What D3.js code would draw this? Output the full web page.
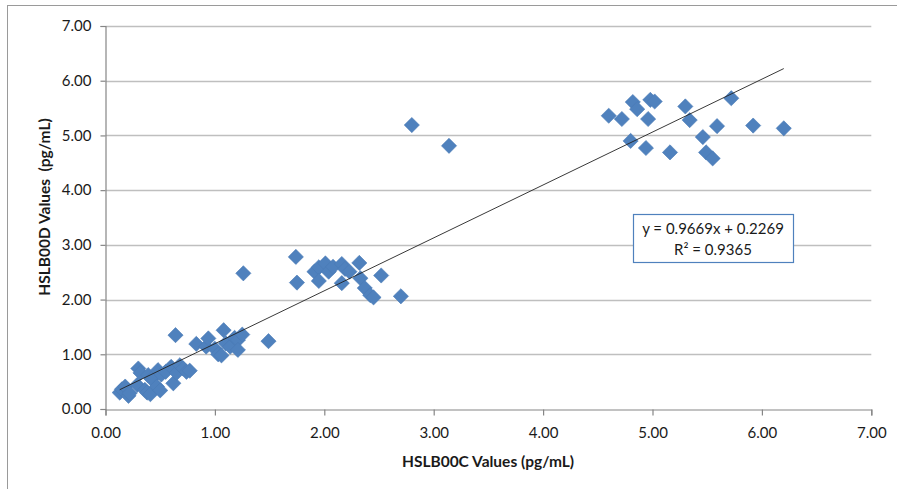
<!DOCTYPE html>
<html>
<head>
<meta charset="utf-8">
<script src="https://cdn.jsdelivr.net/npm/d3@7"></script>
<style>
  body { margin: 0; background: #fff; }
  svg { display: block; font-family: Lato, "Open Sans", sans-serif; }
</style>
</head>
<body>
<svg id="chart" width="897" height="489"></svg>
<script>
// HSLB00C readings (x) and matching HSLB00D readings (y), pg/mL
const xValues = [
  0.13, 0.15, 0.18, 0.21, 0.22, 0.29, 0.30, 0.32, 0.36, 0.38, 0.39, 0.41, 0.42, 0.47,
  0.48, 0.50, 0.51, 0.55, 0.60, 0.62, 0.64, 0.65, 0.68, 0.71, 0.74, 0.77, 0.83, 0.92,
  0.94, 1.00, 1.03, 1.06, 1.08, 1.10, 1.14, 1.18, 1.21, 1.21, 1.25, 1.26, 1.49,
  1.74, 1.75, 1.91, 1.95, 1.95, 2.01, 2.04, 2.08, 2.16, 2.19, 2.23, 2.16, 2.32, 2.33,
  2.52, 2.37, 2.42, 2.45, 2.70, 2.80, 3.14,
  4.60, 4.72, 4.82, 4.86, 4.96, 4.98, 5.02, 5.30, 5.34, 5.72, 5.59, 5.92, 6.20,
  4.80, 4.94, 5.16, 5.46, 5.49, 5.55
];
const yValues = [
  0.30, 0.36, 0.41, 0.24, 0.29, 0.44, 0.74, 0.66, 0.35, 0.30, 0.62, 0.27, 0.55, 0.41,
  0.71, 0.34, 0.63, 0.68, 0.77, 0.47, 1.35, 0.66, 0.80, 0.74, 0.68, 0.70, 1.19, 1.14,
  1.29, 1.10, 1.00, 0.98, 1.44, 1.20, 1.14, 1.30, 1.26, 1.08, 1.36, 2.48, 1.24,
  2.78, 2.31, 2.51, 2.59, 2.34, 2.66, 2.51, 2.60, 2.65, 2.56, 2.51, 2.30, 2.67, 2.39,
  2.44, 2.21, 2.08, 2.04, 2.06, 5.19, 4.81,
  5.36, 5.30, 5.61, 5.48, 5.30, 5.65, 5.62, 5.53, 5.28, 5.68, 5.17, 5.18, 5.13,
  4.90, 4.77, 4.69, 4.97, 4.69, 4.58
];
const tickValues = [0, 1, 2, 3, 4, 5, 6, 7];
const slope = 0.9669;
const intercept = 0.2269;
const equationLines = ["y = 0.9669x + 0.2269", "R² = 0.9365"];

const points = xValues.map((x, i) => ({x: x, y: yValues[i]}));

const svg = d3.select('#chart');
const margin = {left: 105.5, top: 26, right: 26, bottom: 80};
const W = 897, H = 489;

// outer chart frame
svg.append('rect')
  .attr('x', 7.5).attr('y', 5.5)
  .attr('width', W).attr('height', H)
  .attr('fill', 'none').attr('stroke', '#9a9a9a');

const x = d3.scaleLinear().domain([0, 7]).range([margin.left, 871.3]);
const y = d3.scaleLinear().domain([0, 7]).range([409, margin.top]);

// horizontal gridlines
svg.append('g')
  .selectAll('line')
  .data(tickValues.slice(1))
  .enter()
  .append('line')
  .attr('x1', x(0)).attr('x2', x(7))
  .attr('y1', d => Math.round(y(d)) + 0.5)
  .attr('y2', d => Math.round(y(d)) + 0.5)
  .attr('stroke', '#bfbfbf').attr('stroke-width', 1.3);

const yAxis = svg.append('g')
  .attr('transform', `translate(${margin.left},0)`)
  .call(d3.axisLeft(y).tickValues(tickValues).tickFormat(d3.format('.2f')).tickSize(5).tickPadding(9));

const xAxis = svg.append('g')
  .attr('transform', `translate(0,${409.5})`)
  .call(d3.axisBottom(x).tickValues(tickValues).tickFormat(d3.format('.2f')).tickSize(6).tickPadding(12));

[xAxis, yAxis].forEach(g => {
  g.select('.domain').attr('stroke', '#868686').attr('stroke-width', 1.2);
  g.selectAll('.tick line').attr('stroke', '#868686').attr('stroke-width', 1.2);
  g.selectAll('.tick text').attr('fill', '#1a1a1a').style('font-size', '15px')
    .style('font-family', 'Lato, "Open Sans", sans-serif');
});

// markers
const r = 7.6;
svg.append('g')
  .selectAll('path')
  .data(points)
  .enter()
  .append('path')
  .attr('d', d => {
    const cx = x(d.x), cy = y(d.y);
    return `M${cx},${cy - r}L${cx + r},${cy}L${cx},${cy + r}L${cx - r},${cy}Z`;
  })
  .attr('fill', '#4f81bd')
  .attr('stroke', '#4a7ab5')
  .attr('stroke-width', 0.6);

// linear trendline over the data range
const xMin = d3.min(xValues), xMax = d3.max(xValues);
svg.append('line')
  .attr('x1', x(xMin)).attr('y1', y(slope * xMin + intercept))
  .attr('x2', x(xMax)).attr('y2', y(slope * xMax + intercept))
  .attr('stroke', '#222').attr('stroke-width', 0.9);

// equation label
const box = svg.append('g').attr('transform', 'translate(633,214)');
box.append('rect')
  .attr('x', 0.5).attr('y', 0.5)
  .attr('width', 160).attr('height', 48)
  .attr('fill', '#fff').attr('stroke', '#4f81bd').attr('stroke-width', 1.2);
box.selectAll('text')
  .data(equationLines)
  .enter()
  .append('text')
  .attr('x', 80)
  .attr('y', (d, i) => 20 + i * 21)
  .attr('text-anchor', 'middle')
  .attr('fill', '#1a1a1a')
  .style('font-size', '15px')
  .text(d => d);

// axis titles
svg.append('text')
  .attr('x', 488).attr('y', 467)
  .attr('text-anchor', 'middle')
  .style('font-size', '15.5px').style('font-weight', 'bold').attr('fill', '#1a1a1a')
  .text('HSLB00C Values (pg/mL)');

svg.append('text')
  .attr('transform', 'translate(50,207) rotate(-90)')
  .attr('text-anchor', 'middle')
  .style('font-size', '15.5px').style('font-weight', 'bold').attr('fill', '#1a1a1a')
  .style('white-space', 'pre')
  .text('HSLB00D Values  (pg/mL)');
</script>
</body>
</html>
